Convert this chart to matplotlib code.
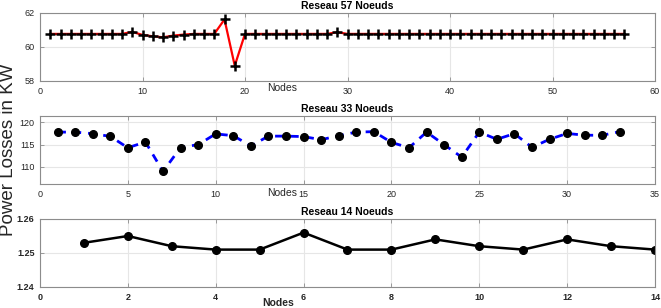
import matplotlib
matplotlib.use("Agg")
import matplotlib.pyplot as plt

plt.rcParams['font.family'] = ['Liberation Sans', 'DejaVu Sans']

# Reseau 57 noeuds
nodes57 = list(range(1, 58))
loss57 = [60.77] * 8 + [60.89, 60.71, 60.63, 60.57, 60.67, 60.73, 60.77, 60.77, 60.77,
                        61.62, 58.90] + [60.77] * 9 + [60.87] + [60.77] * 28

# Reseau 33 noeuds
nodes33 = list(range(1, 34))
loss33 = [117.8, 117.8, 117.45, 116.85, 114.3, 115.6, 109.0, 114.35, 115.0, 117.4,
          117.0, 114.7, 116.9, 116.9, 116.8, 116.1, 117.0, 117.8, 117.9, 115.5,
          114.3, 117.8, 115.0, 112.2, 117.8, 116.2, 117.45, 114.4, 116.2, 117.5,
          117.1, 117.1, 117.9]

# Reseau 14 noeuds
nodes14 = list(range(1, 15))
loss14 = [1.253, 1.255, 1.252, 1.251, 1.251, 1.256, 1.251, 1.251, 1.254, 1.252,
          1.251, 1.254, 1.252, 1.251]

W, H = 661, 308
fig = plt.figure(figsize=(W / 100, H / 100), dpi=100)
gray = '#262626'

def make_ax(top, bottom):
    left, right = 40, 655
    ax = fig.add_axes([left / W, 1 - bottom / H, (right - left) / W, (bottom - top) / H])
    ax.grid(True, color='#e6e6e6', linewidth=0.8)
    ax.set_axisbelow(True)
    for s in ax.spines.values():
        s.set_color('#8c8c8c')
        s.set_linewidth(0.8)
    ax.tick_params(direction='in', length=3, width=0.6, color='#8c8c8c',
                   top=True, right=True, labelsize=6.5, labelcolor=gray, pad=4)
    return ax

def nodes_label(ax, x, y, **kw):
    ax.set_xlabel('Nodes', fontsize=7.5, color=gray, **kw)
    ax.xaxis.set_label_coords(x, y)
    ax.xaxis.label.set_va('center')

# panel 1
ax1 = make_ax(13, 81)
ax1.plot(nodes57, loss57, color='red', linewidth=1.6, marker='+',
         markersize=7, markeredgewidth=1.8, markeredgecolor='black')
ax1.set_xlim(0, 60)
ax1.set_ylim(58, 62)
ax1.set_xticks(range(0, 61, 10))
ax1.set_yticks([58, 60, 62])
ax1.set_title('Reseau 57 Noeuds', fontsize=7.5, fontweight='bold', pad=3)
nodes_label(ax1, 0.393, -0.11)

# panel 2
ax2 = make_ax(116, 184)
ax2.plot(nodes33, loss33, color='blue', linewidth=2, linestyle=(0, (3, 2.5)), marker='o',
         markersize=5.5, markerfacecolor='black', markeredgecolor='black')
ax2.set_xlim(0, 35)
ax2.set_ylim(106.2, 121.4)
ax2.set_xticks(range(0, 36, 5))
ax2.set_yticks([110, 115, 120])
ax2.set_title('Reseau 33 Noeuds', fontsize=7.5, fontweight='bold', pad=3)
nodes_label(ax2, 0.393, -0.13)

# panel 3
ax3 = make_ax(219, 287)
ax3.plot(nodes14, loss14, color='black', linewidth=1.8, marker='o', markersize=5.5)
ax3.set_xlim(0, 14)
ax3.set_ylim(1.24, 1.26)
ax3.set_xticks(range(0, 15, 2))
ax3.set_yticks([1.24, 1.25, 1.26])
for lbl in ax3.get_xticklabels() + ax3.get_yticklabels():
    lbl.set_fontweight('bold')
ax3.set_title('Reseau 14 Noeuds', fontsize=7.5, fontweight='bold', pad=3)
nodes_label(ax3, 0.387, -0.23, fontweight='bold')

fig.text(9 / W, 1 - 150 / H, 'Power Losses in KW', rotation=90, fontsize=13.5,
         color=gray, va='center', ha='center')

fig.savefig('out.png', dpi=100)
